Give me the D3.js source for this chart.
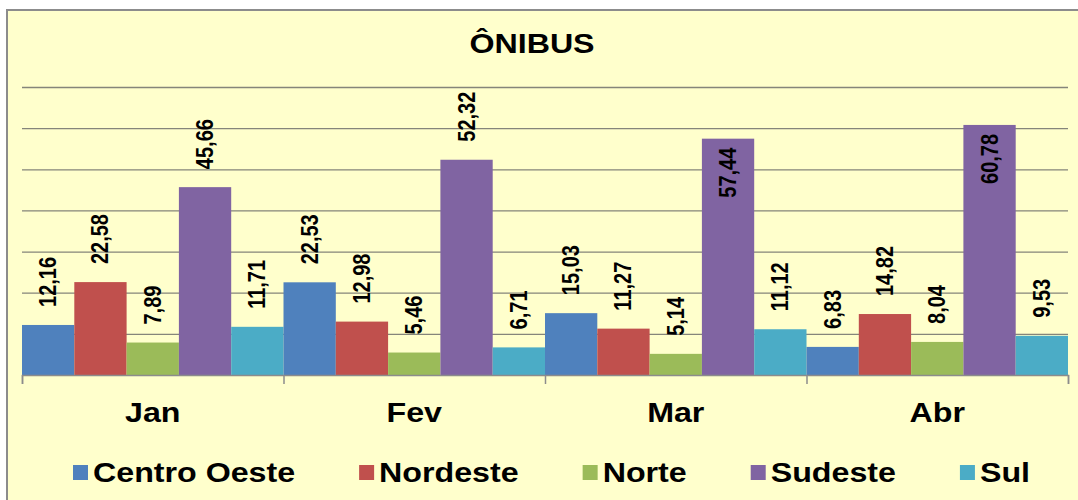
<!DOCTYPE html>
<html>
<head>
<meta charset="utf-8">
<script src="https://cdn.jsdelivr.net/npm/d3@7"></script>
<style>
  html, body { margin: 0; padding: 0; background: #ffffff; }
  svg { display: block; }
  text { font-family: "Liberation Sans", Arial, sans-serif; font-weight: bold; fill: #000; }
</style>
</head>
<body>
<svg id="chart" width="1078" height="500"></svg>
<script>
// Monthly bus figures by region
const months = ["Jan", "Fev", "Mar", "Abr"];
const regions = ["Centro Oeste", "Nordeste", "Norte", "Sudeste", "Sul"];
const centroOeste = [12.16, 22.53, 15.03, 6.83];
const nordeste    = [22.58, 12.98, 11.27, 14.82];
const norte       = [7.89, 5.46, 5.14, 8.04];
const sudeste     = [45.66, 52.32, 57.44, 60.78];
const sul         = [11.71, 6.71, 11.12, 9.53];
const gridTicks   = [10, 20, 30, 40, 50, 60, 70];
const chartTitle  = "ÔNIBUS";

const seriesValues = [centroOeste, nordeste, norte, sudeste, sul];
const colors = ["#4f81bd", "#c0504d", "#9bbb59", "#8064a2", "#4bacc6"];

const svg = d3.select("#chart");
const W = 1078, H = 500;
const plot = { left: 22, right: 1068, top: 87, bottom: 375 };
const stretch = 1.15; // wide lettering

// chart area with its frame
svg.append("rect")
  .attr("x", 7).attr("y", 10)
  .attr("width", W + 20).attr("height", H + 20)
  .attr("fill", "#ffffcc")
  .attr("stroke", "#8c8c8c").attr("stroke-width", 2);

svg.append("text")
  .attr("transform", `translate(532,53) scale(${stretch},1)`)
  .attr("text-anchor", "middle")
  .style("font-size", "28px")
  .text(chartTitle);

const x0 = d3.scaleBand().domain(months).range([plot.left, plot.right]).padding(0);
const x1 = d3.scaleBand().domain(regions).range([0, x0.bandwidth()]).padding(0);
const y = d3.scaleLinear().domain([0, 70]).range([plot.bottom, plot.top]);

// horizontal gridlines
const grid = svg.append("g")
  .attr("transform", `translate(${plot.left},0)`)
  .call(d3.axisLeft(y).tickValues(gridTicks).tickSize(-(plot.right - plot.left)).tickFormat(""));
grid.select(".domain").remove();
grid.selectAll("line").attr("stroke", "#85857a").attr("stroke-width", 1.3);

// bars
const rows = months.map((m, i) => ({
  month: m,
  items: regions.map((r, j) => ({ region: r, value: seriesValues[j][i], color: colors[j] }))
}));

const groups = svg.append("g").selectAll("g")
  .data(rows).join("g")
  .attr("transform", d => `translate(${x0(d.month)},0)`);

groups.selectAll("rect")
  .data(d => d.items).join("rect")
  .attr("x", d => x1(d.region))
  .attr("y", d => y(d.value))
  .attr("width", x1.bandwidth())
  .attr("height", d => y(0) - y(d.value))
  .attr("fill", d => d.color);

// category axis: baseline plus tick marks at category boundaries
const bounds = d3.scaleLinear().domain([0, months.length]).range([plot.left, plot.right]);
const xAxis = svg.append("g")
  .attr("transform", `translate(0,${plot.bottom})`)
  .call(d3.axisBottom(bounds).tickValues(d3.range(months.length + 1)).tickSize(9).tickFormat(""));
xAxis.select(".domain").attr("stroke", "#8c8c8c").attr("stroke-width", 1.5);
xAxis.selectAll("line").attr("stroke", "#8c8c8c").attr("stroke-width", 1.5);

svg.append("g").selectAll("text")
  .data(months).join("text")
  .attr("transform", d => `translate(${x0(d) + x0.bandwidth() / 2},422) scale(${stretch},1)`)
  .attr("text-anchor", "middle")
  .style("font-size", "28px")
  .text(d => d);

// value labels, rotated; moved inside the bar when they would leave the plot
const ptBR = d3.formatLocale({ decimal: ",", thousands: ".", grouping: [3], currency: ["R$", ""] });
const fmt = ptBR.format(".2f");
const gap = 18;
groups.selectAll("text.val")
  .data(d => d.items).join("text")
  .attr("class", "val")
  .style("font-size", "20px")
  .text(d => fmt(d.value))
  .each(function (d) {
    const len = this.getComputedTextLength();
    const cx = x1(d.region) + x1.bandwidth() / 2 + 8;
    const top = y(d.value);
    const inside = top - gap - len < plot.top;
    const yy = inside ? top + 9 : top - gap;
    d3.select(this)
      .attr("text-anchor", inside ? "end" : "start")
      .attr("transform", `translate(${cx},${yy}) scale(${stretch},1) rotate(-90)`);
  });

// legend
const legendY = 482;
const legend = svg.append("g");
const items = legend.selectAll("g").data(regions).join("g");
items.append("rect")
  .attr("width", 15).attr("height", 15)
  .attr("y", legendY - 17)
  .attr("fill", (d, i) => colors[i]);
items.append("text")
  .attr("transform", `translate(20,${legendY}) scale(${stretch},1)`)
  .style("font-size", "28px")
  .text(d => d);
const widths = [];
items.each(function () { widths.push(20 + stretch * d3.select(this).select("text").node().getComputedTextLength()); });
const startX = 73, endX = 1030;
const spacing = (endX - startX - d3.sum(widths)) / (regions.length - 1);
let cur = startX;
items.each(function (d, i) {
  d3.select(this).attr("transform", `translate(${cur},0)`);
  cur += widths[i] + spacing;
});
</script>
</body>
</html>
